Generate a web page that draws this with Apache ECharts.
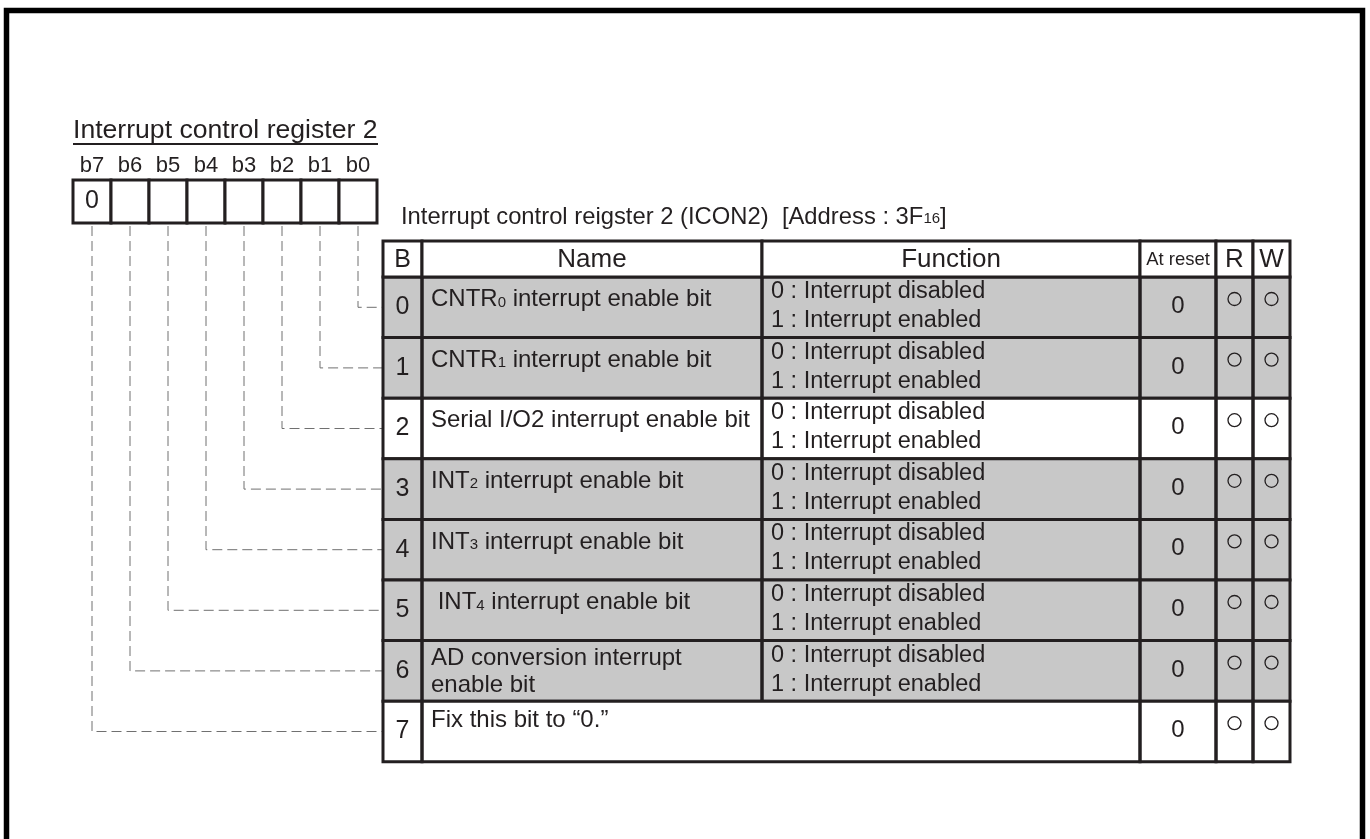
<!DOCTYPE html>
<html><head><meta charset="utf-8">
<script src="https://cdn.jsdelivr.net/npm/echarts@6/dist/echarts.min.js"></script>
<style>html,body{margin:0;padding:0;background:#fff}#c{width:1370px;height:839px}</style>
</head><body><div id="c"></div>
<script>
// ---------- data ----------
const registerTitle = 'Interrupt control register 2';
const tableCaption = 'Interrupt control reigster 2 (ICON2)  [Address : 3F{s|16}]';
const bitLabels = ['b7', 'b6', 'b5', 'b4', 'b3', 'b2', 'b1', 'b0'];
const bitBoxValues = ['0', '', '', '', '', '', '', ''];
const headers = ['B', 'Name', 'Function', 'At reset', 'R', 'W'];
const bitNumbers = ['0', '1', '2', '3', '4', '5', '6', '7'];
const bitNames = [
  'CNTR{s|0} interrupt enable bit',
  'CNTR{s|1} interrupt enable bit',
  'Serial I/O2 interrupt enable bit',
  'INT{s|2} interrupt enable bit',
  'INT{s|3} interrupt enable bit',
  ' INT{s|4} interrupt enable bit',
  'AD conversion interrupt\nenable bit',
  'Fix this bit to \u201c0.\u201d'
];
const functions = [
  '0 : Interrupt disabled\n1 : Interrupt enabled',
  '0 : Interrupt disabled\n1 : Interrupt enabled',
  '0 : Interrupt disabled\n1 : Interrupt enabled',
  '0 : Interrupt disabled\n1 : Interrupt enabled',
  '0 : Interrupt disabled\n1 : Interrupt enabled',
  '0 : Interrupt disabled\n1 : Interrupt enabled',
  '0 : Interrupt disabled\n1 : Interrupt enabled',
  null
];
const resetValues = ['0', '0', '0', '0', '0', '0', '0', '0'];
const readable = [true, true, true, true, true, true, true, true];
const writable = [true, true, true, true, true, true, true, true];
const shadedRows = [true, true, false, true, true, true, true, false];

// ---------- layout / style ----------
const W = 1370, H = 839;
const FONT = "'Liberation Sans', Arial, Helvetica, sans-serif";
const INK = '#231f20';
const SHADE = '#c8c8c8';
const L = {
  colX: [383, 422, 762, 1140, 1216, 1253, 1290],
  tableTop: 241, headerH: 36, rowH: 60.6,
  bitX0: 73, bitW: 38, bitTop: 180, bitBottom: 223,
  lineW: 3
};
const headerFontSizes = [25, 26, 26, 18.5, 26, 26];
const rowTop = i => L.tableTop + L.headerH + i * L.rowH;
const subRich = { s: { fontSize: 15, fontFamily: FONT, fill: INK, verticalAlign: 'bottom', padding: [0, 0, 3, 0] } };

function rectFrom(api, x0, y0, x1, y1) {
  const a = api.coord([x0, y0]), b = api.coord([x1, y1]);
  return { x: Math.min(a[0], b[0]), y: Math.min(a[1], b[1]), width: Math.abs(b[0] - a[0]), height: Math.abs(b[1] - a[1]) };
}
function textAt(api, x, y, text, size, align, vAlign, extra) {
  const p = api.coord([x, y]);
  return {
    type: 'text', x: p[0], y: p[1],
    style: Object.assign({ text: text, fontSize: size, fontFamily: FONT, fill: INK, align: align, verticalAlign: vAlign, rich: subRich }, extra || {})
  };
}

// rows
function renderRow(params, api) {
  const i = params.dataIndex;
  const y0 = rowTop(i), y1 = y0 + L.rowH;
  const cx = L.colX;
  const ch = [];
  ch.push({ type: 'rect', shape: rectFrom(api, cx[0], y0, cx[6], y1), style: { fill: shadedRows[i] ? SHADE : '#fff' } });
  const cells = functions[i] === null ? [[0, 1], [1, 3], [3, 4], [4, 5], [5, 6]] : [[0, 1], [1, 2], [2, 3], [3, 4], [4, 5], [5, 6]];
  cells.forEach(c => ch.push({ type: 'rect', shape: rectFrom(api, cx[c[0]], y0, cx[c[1]], y1), style: { fill: null, stroke: INK, lineWidth: L.lineW } }));
  ch.push(textAt(api, (cx[0] + cx[1]) / 2, y0 + L.rowH / 2, bitNumbers[i], 25, 'center', 'middle'));
  const multi = bitNames[i].indexOf('\n') >= 0;
  ch.push(textAt(api, cx[1] + 9, y0 + (multi ? 4 : (functions[i] === null ? 6 : 9)), bitNames[i], 24, 'left', 'top', { lineHeight: 27 }));
  if (functions[i]) ch.push(textAt(api, cx[2] + 9, y0 + 0, functions[i], 23.5, 'left', 'top', { lineHeight: 29 }));
  ch.push(textAt(api, (cx[3] + cx[4]) / 2, y0 + L.rowH / 2 - 1, resetValues[i], 24, 'center', 'middle'));
  [[readable[i], 4], [writable[i], 5]].forEach(m => {
    if (!m[0]) return;
    const p = api.coord([(cx[m[1]] + cx[m[1] + 1]) / 2, y0 + 22]);
    ch.push({ type: 'circle', shape: { cx: p[0], cy: p[1], r: 6.5 }, style: { fill: null, stroke: INK, lineWidth: 1.3 } });
  });
  return { type: 'group', children: ch };
}

// header
function renderHeader(params, api) {
  const c = params.dataIndex;
  const y0 = L.tableTop, y1 = L.tableTop + L.headerH;
  const x0 = L.colX[c], x1 = L.colX[c + 1];
  return { type: 'group', children: [
    { type: 'rect', shape: rectFrom(api, x0, y0, x1, y1), style: { fill: '#fff', stroke: INK, lineWidth: L.lineW } },
    textAt(api, (x0 + x1) / 2, (y0 + y1) / 2 + 1, headers[c], headerFontSizes[c], 'center', 'middle')
  ] };
}

// bit boxes + leader lines
function renderBit(params, api) {
  const k = params.dataIndex;
  const x0 = L.bitX0 + k * L.bitW, x1 = x0 + L.bitW, xc = (x0 + x1) / 2;
  return { type: 'group', children: [
    { type: 'rect', shape: rectFrom(api, x0, L.bitTop, x1, L.bitBottom), style: { fill: '#fff', stroke: INK, lineWidth: L.lineW } },
    textAt(api, xc, 166, bitLabels[k], 22, 'center', 'middle'),
    textAt(api, xc, (L.bitTop + L.bitBottom) / 2, bitBoxValues[k], 25, 'center', 'middle')
  ] };
}
function renderLeader(params, api) {
  const k = params.dataIndex;
  const n = bitLabels.length - 1 - k; // bit number
  const xc = L.bitX0 + k * L.bitW + L.bitW / 2;
  const yc = rowTop(n) + L.rowH / 2;
  const pts = [[xc, L.bitBottom + 3], [xc, yc], [L.colX[0], yc]].map(p => api.coord(p));
  return { type: 'polyline', shape: { points: pts }, style: { fill: null, stroke: '#707070', lineWidth: 1, lineDash: [10, 5] } };
}

const chart = echarts.init(document.getElementById('c'), null, { renderer: 'canvas' });
chart.setOption({
  animation: false,
  backgroundColor: '#fff',
  grid: { left: 0, right: 0, top: 0, bottom: 0 },
  xAxis: { type: 'value', min: 0, max: W, show: false },
  yAxis: { type: 'value', min: 0, max: H, inverse: true, show: false },
  graphic: [
    { type: 'polyline', shape: { points: [[6.5, 850], [6.5, 10.5], [1362.5, 10.5], [1362.5, 850]] }, style: { fill: null, stroke: '#000', lineWidth: 5.5 }, z: 10 },
    { type: 'text', x: 73, y: 131, style: { text: registerTitle, fontSize: 26.6, fontFamily: FONT, fill: INK, verticalAlign: 'middle' } },
    { type: 'line', shape: { x1: 73, y1: 144, x2: 378, y2: 144 }, style: { stroke: INK, lineWidth: 2 } },
    { type: 'text', x: 401, y: 217, style: { text: tableCaption, fontSize: 23.8, fontFamily: FONT, fill: INK, verticalAlign: 'middle', rich: { s: { fontSize: 15, fontFamily: FONT, fill: INK, verticalAlign: 'bottom', padding: [0, 0, 3, 0] } } } }
  ],
  series: [
    { type: 'custom', name: 'leaders', coordinateSystem: 'cartesian2d', z: 1, silent: true,
      data: bitLabels.map((b, k) => [k, k]), renderItem: renderLeader },
    { type: 'custom', name: 'bits', coordinateSystem: 'cartesian2d', z: 2, silent: true,
      data: bitLabels.map((b, k) => [k, k]), renderItem: renderBit },
    { type: 'custom', name: 'rows', coordinateSystem: 'cartesian2d', z: 3, silent: true,
      data: bitNumbers.map((b, i) => [i, i]), renderItem: renderRow },
    { type: 'custom', name: 'header', coordinateSystem: 'cartesian2d', z: 4, silent: true,
      data: headers.map((h, c) => [c, c]), renderItem: renderHeader }
  ]
});
</script></body></html>
